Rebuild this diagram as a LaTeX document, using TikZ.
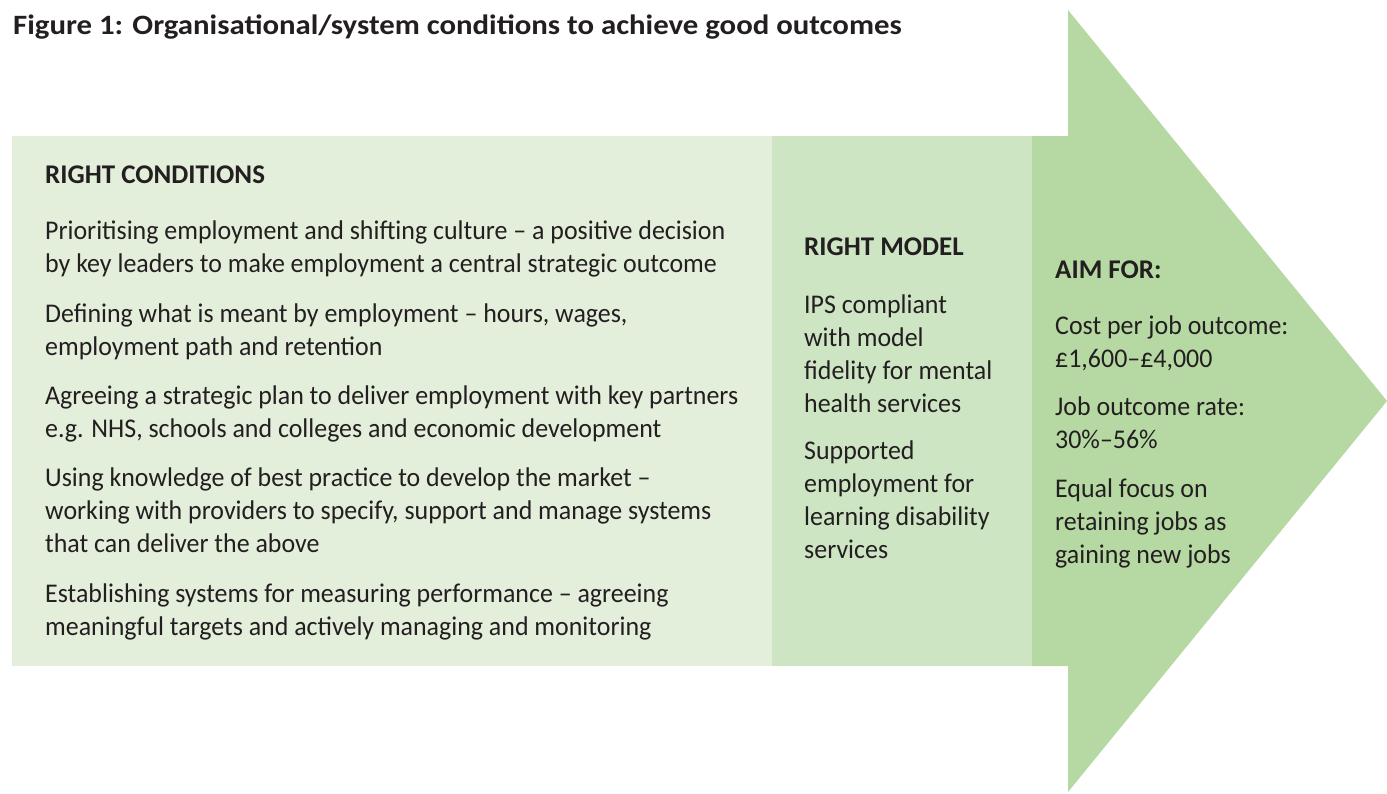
\documentclass[tikz,border=0pt]{standalone}
\usepackage{fontspec}
\setmainfont{Carlito}
\newfontfamily\bodyfont{Carlito}[FakeStretch=0.96]
\newfontfamily\titlefont{Carlito}[FakeStretch=1.1]
\definecolor{condfill}{HTML}{E3EEDB}
\definecolor{modelfill}{HTML}{CEE5C4}
\definecolor{aimfill}{HTML}{B6D9A3}
\definecolor{ink}{HTML}{231F20}
\begin{document}
\begin{tikzpicture}[x=1pt,y=-1pt,
  % multi-line nodes are placed by the baseline of their last line
  txt/.style={anchor=base west, inner sep=0pt, align=left, text=ink,
              font=\bodyfont\fontsize{27}{33}\selectfont},
  head/.style={txt, font=\fontsize{27}{33}\selectfont\bfseries},
  titletxt/.style={txt, font=\titlefont\fontsize{28}{30}\selectfont\bfseries}
]
\useasboundingbox (0,0) rectangle (1387,793);
\fill[white] (0,0) rectangle (1387,793);

% three stages: conditions panel, model panel, and the arrow
\fill[condfill] (12,136) rectangle (772,666);
\fill[modelfill] (772,136) rectangle (1032,666);
\fill[aimfill] (1032,136) -- (1068,136) -- (1068,10) -- (1387,401)
  -- (1068,792) -- (1068,666) -- (1032,666) -- cycle;

\node[titletxt] (title) at (13,34)
  {Figure 1: Organisational/system conditions to achieve good outcomes};

% right conditions
\node[head] (condhead) at (45,183) {RIGHT CONDITIONS};
\node[txt] (cond1) at (45,272)
  {Prioritising employment and shifting culture – a positive decision\\
   by key leaders to make employment a central strategic outcome};
\node[txt] (cond2) at (45,355)
  {Defining what is meant by employment – hours, wages,\\
   employment path and retention};
\node[txt] (cond3) at (45,437)
  {Agreeing a strategic plan to deliver employment with key partners\\
   e.g. NHS, schools and colleges and economic development};
\node[txt] (cond4) at (45,552)
  {Using knowledge of best practice to develop the market –\\
   working with providers to specify, support and manage systems\\
   that can deliver the above};
\node[txt] (cond5) at (45,635)
  {Establishing systems for measuring performance – agreeing\\
   meaningful targets and actively managing and monitoring};

% right model
\node[head] (modelhead) at (804,255) {RIGHT MODEL};
\node[txt] (model1) at (804,412)
  {IPS compliant\\with model\\fidelity for mental\\health services};
\node[txt] (model2) at (804,558)
  {Supported\\employment for\\learning disability\\services};

% aim for
\node[head] (aimhead) at (1055,278) {AIM FOR:};
\node[txt] (aim1) at (1055,367) {Cost per job outcome:\\£1,600–£4,000};
\node[txt] (aim2) at (1055,448) {Job outcome rate:\\30\%–56\%};
\node[txt] (aim3) at (1055,563)
  {Equal focus on\\retaining jobs as\\gaining new jobs};
\end{tikzpicture}
\end{document}
